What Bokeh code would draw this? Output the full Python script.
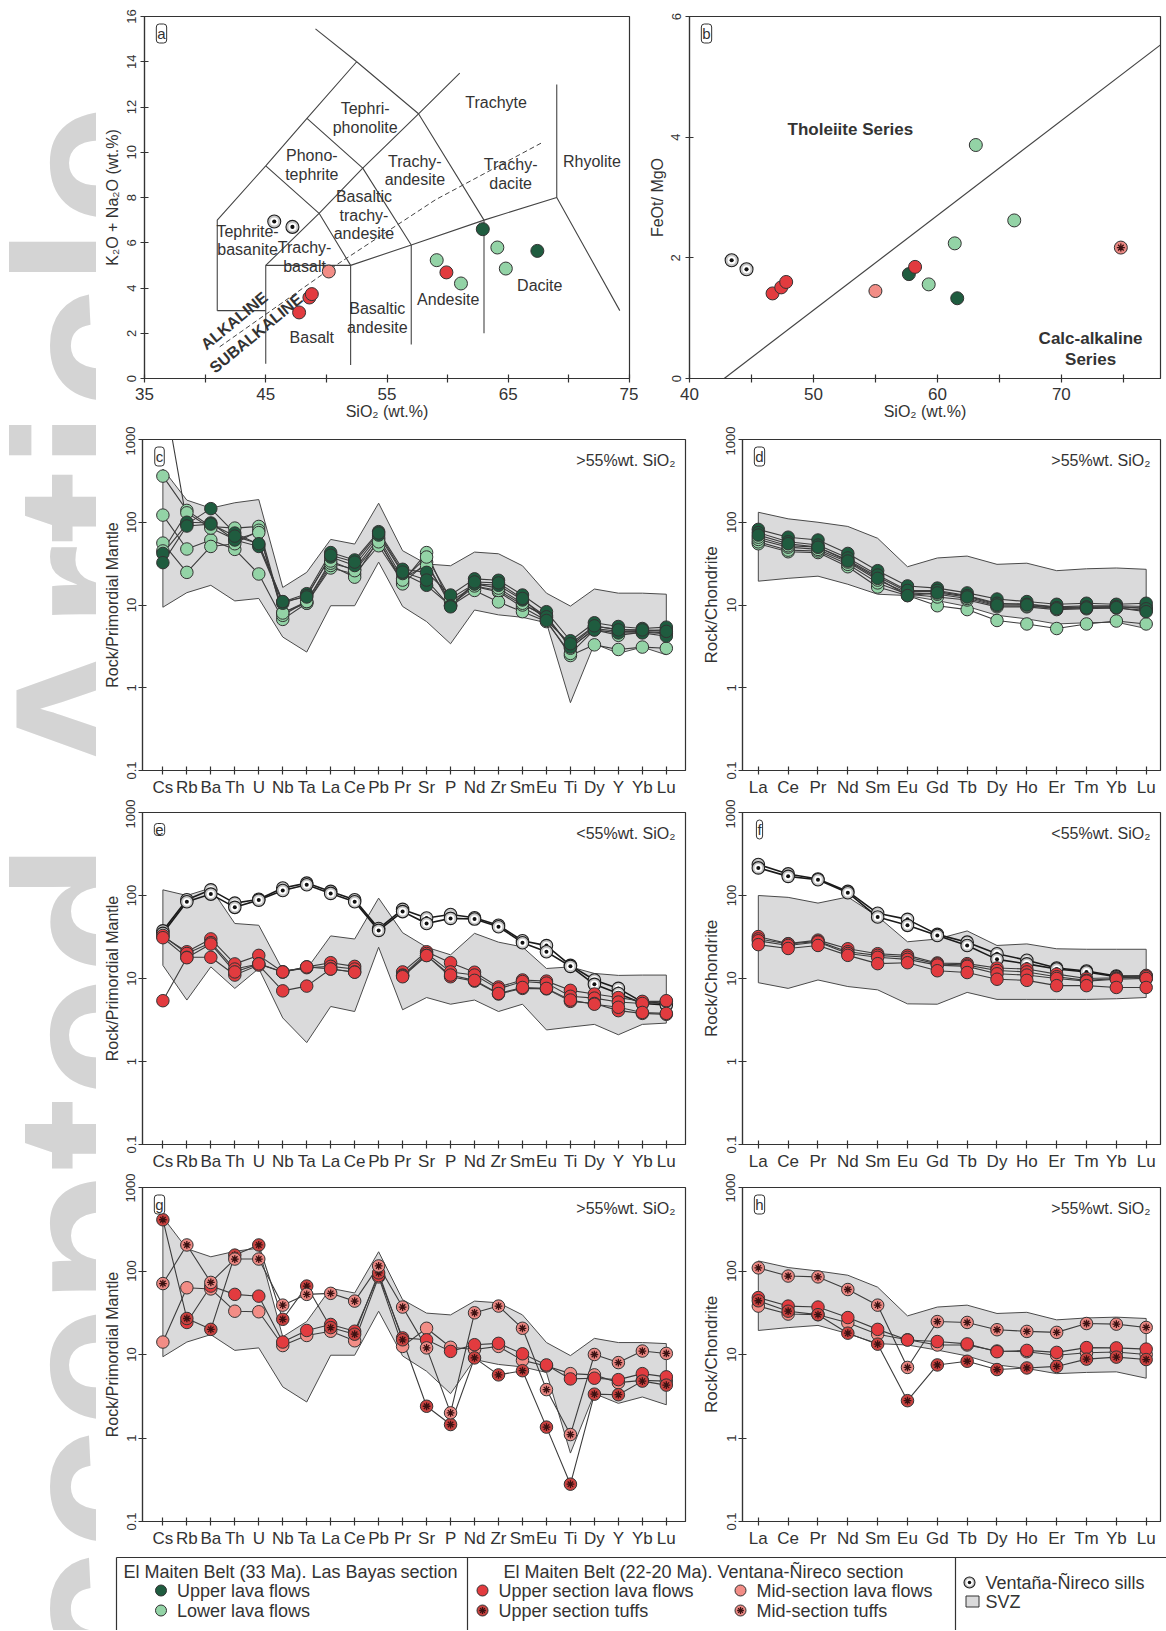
import math
from bokeh.plotting import figure
from bokeh.models import Range1d, FixedTicker, Label, BasicTickFormatter
from bokeh.layouts import row, column
from bokeh.embed import file_html
from bokeh.resources import INLINE
from bokeh.core.properties import value

nan = float("nan")
FONT = "Liberation Sans"
INK = "#333333"

# ---------------- colours ----------------
C_UPPER_LAVA = "#1f5c3f"   # El Maiten 33 Ma upper lava flows
C_LOWER_LAVA = "#93d3a6"   # El Maiten 33 Ma lower lava flows
C_US_LAVA = "#e23b3f"      # upper section lava flows
C_MS_LAVA = "#f28d86"      # mid-section lava flows
C_US_TUFF = "#c9413f"      # upper section tuffs
C_MS_TUFF = "#ea8782"      # mid-section tuffs
SVZ_FILL = "#dadadb"

# ---------------- panel a : TAS ----------------
TAS_X_TICKS = [35, 45, 55, 65, 75]
TAS_X_MINOR = [40, 50, 60, 70]
TAS_Y_TICKS = [0, 2, 4, 6, 8, 10, 12, 14, 16]
TAS_BOUNDS_X = [
    [41, 41, 45, 48.4, 52.5, 57.6, 63, 69, 74.2],
    [49.1, 52.5],
    [41, 45],
    [45, 45, 52, 57, 63],
    [45, 49.4, 53, 57.6, 61],
    [45, 49.4, 52],
    [48.4, 53, 57],
    [52, 52],
    [57, 57],
    [63, 63],
    [69, 69],
]
TAS_BOUNDS_Y = [
    [3, 7, 9.4, 11.5, 14, 11.7, 7, 8, 3.0],
    [15.45, 14],
    [3, 3],
    [0.65, 5, 5, 5.9, 7],
    [5, 7.3, 9.3, 11.7, 13.5],
    [9.4, 7.3, 5],
    [11.5, 9.3, 5.9],
    [0.6, 5],
    [1.5, 5.9],
    [2.0, 7],
    [8, 13],
]
ALK_DIVIDE_X = [41.2, 50.2, 59.0, 67.7]
ALK_DIVIDE_Y = [1.4, 4.8, 7.9, 10.4]
TAS_NAMES = ["Tephri-\nphonolite", "Trachyte", "Phono-\ntephrite", "Trachy-\nandesite",
             "Trachy-\ndacite", "Rhyolite", "Basaltic\ntrachy-\nandesite", "Tephrite-\nbasanite",
             "Trachy-\nbasalt", "Basaltic\nandesite", "Andesite", "Dacite", "Basalt"]
TAS_NAME_X = [53.2, 64.0, 48.8, 57.3, 65.2, 71.9, 53.1, 43.5, 48.2, 54.2, 60.05, 67.6, 48.8]
TAS_NAME_Y = [11.5, 12.2, 9.43, 9.2, 9.05, 9.6, 7.22, 6.1, 5.38, 2.66, 3.5, 4.1, 1.82]
SERIES_NAMES = ["ALKALINE", "SUBALKALINE"]
SERIES_NAME_X = [42.4, 44.2]
SERIES_NAME_Y = [2.55, 2.0]

a_sills_x = [45.7, 47.2]
a_sills_y = [6.94, 6.70]
a_us_lava_x = [47.75, 48.6, 48.8, 59.9]
a_us_lava_y = [2.92, 3.58, 3.73, 4.69]
a_ms_lava_x = [50.2]
a_ms_lava_y = [4.73]
a_upper_lava_x = [62.9, 67.4]
a_upper_lava_y = [6.6, 5.64]
a_lower_lava_x = [59.1, 61.1, 64.1, 64.8]
a_lower_lava_y = [5.23, 4.2, 5.79, 4.86]

# ---------------- panel b : FeOt/MgO vs SiO2 ----------------
B_X_TICKS = [40, 50, 60, 70]
B_X_MINOR = [45, 55, 65, 75]
B_Y_TICKS = [0, 2, 4, 6]
MIYASHIRO_X = [42.8, 78.0]
MIYASHIRO_Y = [0.0, 5.53]
b_sills_x = [43.4, 44.6]
b_sills_y = [1.96, 1.81]
b_us_lava_x = [46.7, 47.4, 47.8, 58.2]
b_us_lava_y = [1.41, 1.51, 1.60, 1.85]
b_ms_lava_x = [55.0]
b_ms_lava_y = [1.45]
b_upper_lava_x = [57.7, 61.6]
b_upper_lava_y = [1.73, 1.33]
b_lower_lava_x = [63.1, 66.2, 61.4, 59.3]
b_lower_lava_y = [3.87, 2.62, 2.24, 1.56]
b_ms_tuff_x = [74.8]
b_ms_tuff_y = [2.17]

# ---------------- spider diagrams ----------------
PM_ELEMENTS = ["Cs", "Rb", "Ba", "Th", "U", "Nb", "Ta", "La", "Ce", "Pb", "Pr", "Sr",
               "P", "Nd", "Zr", "Sm", "Eu", "Ti", "Dy", "Y", "Yb", "Lu"]
REE_ELEMENTS = ["La", "Ce", "Pr", "Nd", "Sm", "Eu", "Gd", "Tb", "Dy", "Ho", "Er", "Tm", "Yb", "Lu"]
LOG_TICKS = [0.1, 1, 10, 100, 1000]
LOG_LABELS = ["0.1", "1", "10", "100", "1000"]

# SVZ fields
svz_pm_hi_upper = [440, 185, 148, 172, 188, 16.3, 24.8, 62, 54.5, 170, 45.3, 31.3, 29.8, 43.6, 41.6, 29.8, 13.9, 9.7, 15.6, 13.9, 13.9, 13.5]
svz_pm_hi_lower = [9.4, 14.1, 17.3, 11.2, 12.0, 4.1, 2.7, 9.8, 9.8, 33, 9.6, 6.3, 3.4, 8.7, 7.6, 7.1, 6.1, 0.66, 3.4, 2.6, 3.1, 2.5]
svz_ree_hi_upper = [132, 110, 100, 89, 64, 29, 37, 39, 31, 32, 26, 27.4, 28, 27]
svz_ree_hi_lower = [19.4, 21, 22.3, 17.8, 13.5, 13, 11.3, 9.6, 7.5, 6.8, 5.9, 6.1, 6.2, 5.2]
svz_pm_lo_upper = [117, 100, 123, 46, 43.8, 12.6, 13, 32.6, 29.9, 93, 35.6, 23.8, 19.3, 35, 27.4, 24, 13.2, 13.8, 11.5, 10.9, 11, 11]
svz_pm_lo_lower = [14.4, 5.5, 13.8, 7.6, 13.2, 3.35, 1.69, 4.6, 4.0, 23.8, 4.2, 5.9, 4.9, 5.5, 4.0, 4.9, 2.4, 2.6, 2.8, 2.1, 2.8, 2.9]
svz_ree_lo_upper = [100, 95, 81, 96, 56, 27.7, 29.9, 37.4, 25, 26.1, 22.8, 22.5, 22.5, 22.5]
svz_ree_lo_lower = [8.9, 7.6, 9.6, 8.0, 7.3, 4.95, 4.9, 6.8, 5.6, 5.6, 5.6, 5.6, 5.7, 5.9]

# panel c (>55 wt% SiO2, Las Bayas)
c_upper_lava = [
    [42, 95, 146, 74, 54, 10.9, 13.7, 43, 35, 77, 27, 24.8, 13.2, 20.7, 19.9, 13.2, 8.3, 3.7, 6.1, 5.5, 5.2, 5.4],
    [4500, 100, 98, 61, 51, 10.5, 13, 38, 30, 70, 24, 17.3, 9.8, 18, 17.3, 11.5, 7.2, 3.1, 5.0, 4.6, 4.6, 4.2],
    [32.5, 90, 95, 68, 55, 11, 12.5, 40, 33, 74, 25, 20, 9.5, 19, 18.5, 12, 6.5, 3.4, 5.6, 5.0, 5.0, 4.8],
]
c_lower_lava = [
    [361, 139, 89, 85, 89, 8.1, 10.5, 28, 23.7, 52, 19, 43, 10, 16.7, 14.4, 9.4, 6.5, 2.45, 3.3, 2.9, 3.1, 3.0],
    [122, 47.5, 61, 47, 23.7, 6.7, 10.5, 30, 21.7, 62, 18, 33, 9.8, 15, 10.9, 8.3, 6.3, 2.6, 5.0, 4.3, 4.7, 4.5],
    [56, 24.8, 51, 55, 80, 7.5, 11, 32, 27, 65, 21, 30, 11, 17, 15, 10, 7.5, 3.0, 5.2, 4.8, 4.8, 4.6],
    [45, 130, 85, 62, 75, 8, 11, 34, 26, 58, 20, 38, 12, 18, 16, 10.5, 7, 3.2, 5.5, 5.1, 4.9, 5.0],
]
# panel d
d_upper_lava = [
    [82, 66, 61, 42, 26, 17, 16, 14, 11.8, 11, 10.2, 10.5, 10.2, 10.5],
    [75, 58, 53, 37, 23, 15, 15, 13, 10.5, 10.2, 9.3, 9.5, 9.6, 9.0],
    [70, 55, 50, 34, 21, 13, 14, 12.5, 10, 10, 9, 9.2, 9.3, 8.3],
]
d_lower_lava = [
    [55, 44, 43, 29, 16.5, 13, 9.8, 8.8, 6.5, 5.9, 5.2, 5.9, 6.4, 5.9],
    [58, 46, 45, 31, 18.5, 13.5, 12.5, 11.5, 9.5, 9.5, 8.8, 9, 9.2, 8.6],
    [62, 50, 47, 33, 20, 14, 13.5, 12, 9.8, 9.7, 9.2, 9.3, 9.5, 9.2],
    [66, 52, 50, 35, 22, 14.5, 14.5, 12.8, 10.3, 10.3, 9.5, 9.8, 9.8, 9.6],
]
# panel e (<55 wt% SiO2)
e_sills = [
    [37.5, 89, 117, 81, 90, 123, 141, 112, 89, 40, 68, 53.5, 59, 54, 43.8, 28.5, 24.9, 14.4, 9.6, 7.6, 5.2, 5.0],
    [35, 84, 104, 72, 88, 115, 135, 106, 84, 38, 64, 46, 53, 52, 42, 27, 21, 14, 8.5, 6.6, 5.0, 4.8],
]
e_us_lava = [
    [32, 21, 30, 15, 19, 12, 13.8, 15.5, 14, nan, 12, 21, 15.5, 11.9, 7.9, 9.6, 9.3, 7.2, 6.5, 5.9, 5.3, 5.3],
    [33, 20, 27, 13, 15, 12, 13.5, 14, 13, nan, 11, 20, 12, 11, 7.5, 9.2, 8.8, 6.1, 5.8, 5.2, 5.0, 5.4],
    [31, 18, 18, 11, 14.5, 7.1, 8.1, 13, 12, nan, 10.8, 19, 10.5, 9.3, 6.5, 7.6, 7.5, 5.3, 5.0, 4.1, 3.8, 3.7],
    [5.4, 17.8, 26, 12, 15, 12, 13.8, 13, 11.9, nan, 10.5, 18.9, 11, 9.5, 6.6, 7.8, 7.6, 5.5, 4.9, 4.5, 3.9, 3.8],
]
# panel f
f_sills = [
    [236, 182, 158, 112, 61, 51.6, 34, 27.4, 19.9, 16.6, 13.4, 12.3, 10.7, 10.7],
    [215, 170, 155, 108, 55, 43.7, 33, 25, 17, 15, 13, 12, 10.5, 10.0],
]
f_us_lava = [
    [32, 26.3, 29, 22.8, 19.9, 19, 15.4, 15.1, 13.4, 13, 11.3, 10, 10.2, 10.9],
    [30, 26, 28, 21, 19, 18, 15, 14.5, 12.5, 12, 10.5, 9.5, 10, 10.5],
    [28.5, 25, 27.5, 20, 18, 17, 14.5, 14, 11.4, 11, 10, 9.3, 9.8, 10],
    [25.6, 23, 25, 19, 15.1, 15.5, 12.4, 11.8, 9.8, 9.5, 8.2, 8.2, 7.8, 7.8],
]
# panel g (>55 wt% SiO2, Ventana-Nireco)
g_us_lava = [[nan, 24.2, 66, 52.5, 50, 14.1, 19.4, 22.9, 19, 88, 15.8, 15, 10.9, 13.1, 13.6, 10.2, 7.5, 5.1, 5.2, 5.0, 5.9, 5.4]]
g_ms_lava = [[14.1, 63, 61, 33, 32.5, 12.8, 16.9, 19, 14.6, 85, 12.5, 20.6, 12.2, 11.5, 12.5, 8.5, 7.3, 5.9, 5.7, 4.6, 4.9, 4.8]]
g_us_tuff = [[411, 27, 20, 155, 205, 26.4, 66, 21, 17.5, 95, 15, 2.4, 1.45, 9.1, 5.7, 6.4, 1.35, 0.28, 3.35, 3.3, 4.8, 4.3]]
g_ms_tuff = [[70.7, 205, 73, 139, 139, 39, 52.5, 54, 43.6, 115, 37, 12, 2.0, 31.6, 38, 20.6, 3.8, 1.1, 10, 8.0, 11, 10.3]]
# panel h
h_us_lava = [[48, 38, 37, 27.7, 20, 14.9, 14.3, 13.4, 10.8, 11.2, 10.6, 12.1, 12, 11.6]]
h_ms_lava = [[38, 30.5, 30, 24, 17.5, 15, 13, 13, 11, 10.8, 9.8, 10.5, 10.7, 10]]
h_us_tuff = [[44, 33, 30, 18, 13.3, 2.8, 7.5, 8.3, 6.6, 6.9, 7.2, 8.8, 9.3, 8.7]]
h_ms_tuff = [[109, 87, 85, 60, 39, 7.0, 24.8, 24.2, 19.8, 18.9, 18.4, 23.5, 23.1, 21.1]]

# ---------------- legend texts ----------------
LEG_HEADERS = ["El Maiten Belt (33 Ma). Las Bayas section",
               "El Maiten Belt (22-20 Ma). Ventana-Ñireco section"]
LEG_ITEMS = [("upper_lava", "Upper lava flows"), ("lower_lava", "Lower lava flows"),
             ("us_lava", "Upper section lava flows"), ("ms_lava", "Mid-section lava flows"),
             ("us_tuff", "Upper section tuffs"), ("ms_tuff", "Mid-section tuffs"),
             ("sill", "Ventaña-Ñireco sills"), ("svz", "SVZ")]

FILLS = {"upper_lava": C_UPPER_LAVA, "lower_lava": C_LOWER_LAVA, "us_lava": C_US_LAVA,
         "ms_lava": C_MS_LAVA, "us_tuff": C_US_TUFF, "ms_tuff": C_MS_TUFF}


def draw_points(p, xs, ys, kind, size):
    if kind == "sill":
        p.scatter(xs, ys, marker="circle", size=size, fill_color="#c4c4c4", line_color="#1e1e1e", line_width=1.1)
        p.scatter(xs, ys, marker="circle", size=size * 0.62, fill_color="white", line_color=None)
        p.scatter(xs, ys, marker="circle", size=size * 0.32, fill_color="#111111", line_color=None)
    elif kind in ("us_tuff", "ms_tuff"):
        p.scatter(xs, ys, marker="circle", size=size, fill_color=FILLS[kind], line_color=INK, line_width=1)
        p.scatter(xs, ys, marker="asterisk", size=size * 0.62, line_color="#3b1212", line_width=1.3)
    else:
        p.scatter(xs, ys, marker="circle", size=size, fill_color=FILLS[kind], line_color=INK, line_width=1)


def base_fig(w, h, bl, br, bt, bb, xr, yr, ylog=False):
    p = figure(width=w, height=h, x_range=xr, y_range=yr,
               y_axis_type="log" if ylog else "linear",
               min_border_left=bl, min_border_right=br, min_border_top=bt, min_border_bottom=bb,
               toolbar_location=None, output_backend="svg",
               background_fill_color="white", border_fill_color="white")
    p.grid.visible = False
    p.outline_line_color = INK
    p.outline_line_width = 1.2
    for ax in p.axis:
        ax.axis_line_color = INK
        ax.axis_line_width = 1.2
        ax.major_tick_line_color = INK
        ax.major_tick_line_width = 1.2
        ax.major_tick_in = 4
        ax.major_tick_out = 4
        ax.minor_tick_line_color = INK
        ax.minor_tick_line_width = 1.2
        ax.minor_tick_in = 4
        ax.minor_tick_out = 4
        ax.major_label_text_font = FONT
        ax.major_label_text_color = INK
        ax.axis_label_text_font = FONT
        ax.axis_label_text_font_style = "normal"
        ax.axis_label_text_color = INK
        ax.axis_label_text_font_size = "16px"
    p.yaxis.major_label_orientation = "vertical"
    return p


def panel_letter(p, x0, y1, letter):
    p.add_layout(Label(x=x0, y=y1, x_offset=17, y_offset=-17, text=letter,
                       text_font=FONT, text_font_size="15px", text_color=INK,
                       text_align="center", text_baseline="middle",
                       border_line_color=INK, border_line_width=1, border_radius=3,
                       background_fill_color="white", padding=1))


# ---------------- panel a ----------------
pa = base_fig(542, 426, 48, 9, 16, 48, Range1d(35, 75), Range1d(0, 16))
pa.xaxis.ticker = FixedTicker(ticks=TAS_X_TICKS, minor_ticks=TAS_X_MINOR)
pa.yaxis.ticker = FixedTicker(ticks=TAS_Y_TICKS, minor_ticks=[])
pa.xaxis.axis_label = "SiO₂ (wt.%)"
pa.yaxis.axis_label = "K₂O + Na₂O (wt.%)"
pa.xaxis.major_label_text_font_size = "17px"
pa.yaxis.major_label_text_font_size = "13px"
pa.xaxis.major_label_standoff = 5
pa.xaxis.axis_label_standoff = 0
pa.yaxis.major_label_standoff = 5
pa.yaxis.axis_label_standoff = 3
pa.multi_line(TAS_BOUNDS_X, TAS_BOUNDS_Y, line_color="#444444", line_width=1.1)
pa.line(ALK_DIVIDE_X, ALK_DIVIDE_Y, line_color="#444444", line_width=1, line_dash="5 3")
pa.text(TAS_NAME_X, TAS_NAME_Y, text=TAS_NAMES, text_font=value(FONT), text_font_size="16px",
        text_color=INK, text_align="center", text_baseline="middle", text_line_height=1.1)
pa.text(SERIES_NAME_X, SERIES_NAME_Y, text=SERIES_NAMES, angle=0.69, text_font=value(FONT),
        text_font_size="16px", text_font_style="bold", text_color=INK,
        text_align="center", text_baseline="middle")
draw_points(pa, a_lower_lava_x, a_lower_lava_y, "lower_lava", 13)
draw_points(pa, a_upper_lava_x, a_upper_lava_y, "upper_lava", 13)
draw_points(pa, a_ms_lava_x, a_ms_lava_y, "ms_lava", 13)
draw_points(pa, a_us_lava_x, a_us_lava_y, "us_lava", 13)
draw_points(pa, a_sills_x, a_sills_y, "sill", 13)
panel_letter(pa, 35, 16, "a")

# ---------------- panel b ----------------
pb = base_fig(528, 426, 51, 6, 16, 48, Range1d(40, 78), Range1d(0, 6))
pb.xaxis.ticker = FixedTicker(ticks=B_X_TICKS, minor_ticks=B_X_MINOR)
pb.yaxis.ticker = FixedTicker(ticks=B_Y_TICKS, minor_ticks=[])
pb.xaxis.axis_label = "SiO₂ (wt.%)"
pb.yaxis.axis_label = "FeOt/ MgO"
pb.xaxis.major_label_text_font_size = "17px"
pb.yaxis.major_label_text_font_size = "13px"
pb.xaxis.major_label_standoff = 5
pb.xaxis.axis_label_standoff = 0
pb.yaxis.major_label_standoff = 5
pb.yaxis.axis_label_standoff = 3
pb.line(MIYASHIRO_X, MIYASHIRO_Y, line_color="#444444", line_width=1.2)
pb.text([52.98, 72.36], [4.12, 0.49], text=["Tholeiite Series", "Calc-alkaline\nSeries"],
        text_font=value(FONT), text_font_size="17px", text_font_style="bold", text_color=INK,
        text_align="center", text_baseline="middle", text_line_height=1.15)
draw_points(pb, b_lower_lava_x, b_lower_lava_y, "lower_lava", 13)
draw_points(pb, b_upper_lava_x, b_upper_lava_y, "upper_lava", 13)
draw_points(pb, b_ms_lava_x, b_ms_lava_y, "ms_lava", 13)
draw_points(pb, b_us_lava_x, b_us_lava_y, "us_lava", 13)
draw_points(pb, b_sills_x, b_sills_y, "sill", 13)
draw_points(pb, b_ms_tuff_x, b_ms_tuff_y, "ms_tuff", 13)
panel_letter(pb, 40, 6, "b")


# ---------------- spider panels ----------------
def spider(w, h, bl, br, bt, bb, elements, pad_l, pad_r, ylabel, ylabel_size, note, letter,
           band_up, band_lo, series):
    n = len(elements)
    xr = Range1d(-pad_l, n - 1 + pad_r)
    p = base_fig(w, h, bl, br, bt, bb, xr, Range1d(0.1, 1000), ylog=True)
    p.xaxis.ticker = FixedTicker(ticks=list(range(n)), minor_ticks=[])
    p.xaxis.major_label_overrides = {i: el for i, el in enumerate(elements)}
    p.xaxis.major_label_text_font_size = "17px"
    p.xaxis.major_label_standoff = 3
    p.yaxis.ticker = FixedTicker(ticks=LOG_TICKS, minor_ticks=[])
    p.yaxis.formatter = BasicTickFormatter()
    p.yaxis.major_label_overrides = {t: s for t, s in zip(LOG_TICKS, LOG_LABELS)}
    p.yaxis.major_label_text_font_size = "13px"
    p.yaxis.major_label_standoff = 3
    p.yaxis.axis_label = ylabel
    p.yaxis.axis_label_text_font_size = ylabel_size
    p.yaxis.axis_label_standoff = 3
    xs = list(range(n))
    p.patch(xs + xs[::-1], band_up + band_lo[::-1], fill_color=SVZ_FILL, line_color="#4a4a4a",
            line_width=1)
    for kind, samples in series:
        for s in samples:
            if kind == "sill":
                p.line(xs, s, line_color="#1a1a1a", line_width=1.6)
            else:
                p.line(xs, s, line_color="#3c3c3c", line_width=1.1)
    for kind, samples in series:
        for s in samples:
            draw_points(p, xs, s, kind, 12.5)
    p.add_layout(Label(x=n - 1 + pad_r, y=1000, x_offset=-10, y_offset=-21, text=note,
                       text_font=FONT, text_font_size="16px", text_color=INK,
                       text_align="right", text_baseline="middle"))
    panel_letter(p, -pad_l, 1000, letter)
    return p


pc = spider(596, 373, 46, 7, 13, 27, PM_ELEMENTS, 0.85, 0.80, "Rock/Primordial Mantle", "16px",
            ">55%wt. SiO₂", "c", svz_pm_hi_upper, svz_pm_hi_lower,
            [("lower_lava", c_lower_lava), ("upper_lava", c_upper_lava)])
pd_ = spider(474, 373, 50, 6, 13, 27, REE_ELEMENTS, 0.53, 0.48, "Rock/Chondrite", "17px",
             ">55%wt. SiO₂", "d", svz_ree_hi_upper, svz_ree_hi_lower,
             [("lower_lava", d_lower_lava), ("upper_lava", d_upper_lava)])
pe = spider(596, 374, 46, 7, 13, 25, PM_ELEMENTS, 0.85, 0.80, "Rock/Primordial Mantle", "16px",
            "<55%wt. SiO₂", "e", svz_pm_lo_upper, svz_pm_lo_lower,
            [("sill", e_sills), ("us_lava", e_us_lava)])
pf = spider(474, 374, 50, 6, 13, 25, REE_ELEMENTS, 0.53, 0.48, "Rock/Chondrite", "17px",
            "<55%wt. SiO₂", "f", svz_ree_lo_upper, svz_ree_lo_lower,
            [("sill", f_sills), ("us_lava", f_us_lava)])
pg = spider(596, 377, 46, 7, 14, 26, PM_ELEMENTS, 0.85, 0.80, "Rock/Primordial Mantle", "16px",
            ">55%wt. SiO₂", "g", svz_pm_hi_upper, svz_pm_hi_lower,
            [("ms_lava", g_ms_lava), ("us_lava", g_us_lava), ("us_tuff", g_us_tuff), ("ms_tuff", g_ms_tuff)])
ph = spider(474, 377, 50, 6, 14, 26, REE_ELEMENTS, 0.53, 0.48, "Rock/Chondrite", "17px",
            ">55%wt. SiO₂", "h", svz_ree_hi_upper, svz_ree_hi_lower,
            [("ms_lava", h_ms_lava), ("us_lava", h_us_lava), ("us_tuff", h_us_tuff), ("ms_tuff", h_ms_tuff)])

# ---------------- legend ----------------
pl = figure(width=1070, height=80, x_range=Range1d(96, 1166), y_range=Range1d(1630, 1550),
            min_border=0, toolbar_location=None, output_backend="svg",
            x_axis_location=None, y_axis_location=None)
pl.grid.visible = False
pl.outline_line_color = None
pl.multi_line([[116, 1200], [116, 116], [467, 467], [955, 955]],
              [[1557, 1557], [1557, 1650], [1557, 1650], [1557, 1650]],
              line_color=INK, line_width=1.2)
pl.text([290, 703], [1571, 1571], text=LEG_HEADERS, text_font=value(FONT), text_font_size="18px",
        text_color=INK, text_align="center", text_baseline="middle")
leg_mx = [160.5, 160.5, 482, 740, 482, 740, 969]
leg_my = [1590, 1610, 1590, 1590, 1610, 1610, 1582]
for (kind, label), mx, my in zip(LEG_ITEMS[:7], leg_mx, leg_my):
    draw_points(pl, [mx], [my], kind, 11)
    pl.text([mx + 16], [my], text=[label], text_font=value(FONT), text_font_size="18px",
            text_color=INK, text_align="left", text_baseline="middle")
pl.rect([972], [1601], width=13, height=11, fill_color=SVZ_FILL, line_color=INK, line_width=1)
pl.text([985], [1601], text=[LEG_ITEMS[7][1]], text_font=value(FONT), text_font_size="18px",
        text_color=INK, text_align="left", text_baseline="middle")

# ---------------- watermark strip ----------------
pw = figure(width=96, height=1630, x_range=Range1d(0, 96), y_range=Range1d(1630, 0),
            min_border=0, toolbar_location=None, output_backend="svg",
            x_axis_location=None, y_axis_location=None)
pw.grid.visible = False
pw.outline_line_color = None
pw.add_layout(Label(x=92, y=95, text="Accepted Article", angle=math.pi / 2,
                    text_align="right", text_baseline="alphabetic",
                    text_font=FONT, text_font_size="220px", text_font_style="bold",
                    text_color="#d4d4d4"))

layout = row(pw, column(row(pa, pb), row(pc, pd_), row(pe, pf), row(pg, ph), pl))

open("out.html", "w").write(file_html(layout, INLINE))
